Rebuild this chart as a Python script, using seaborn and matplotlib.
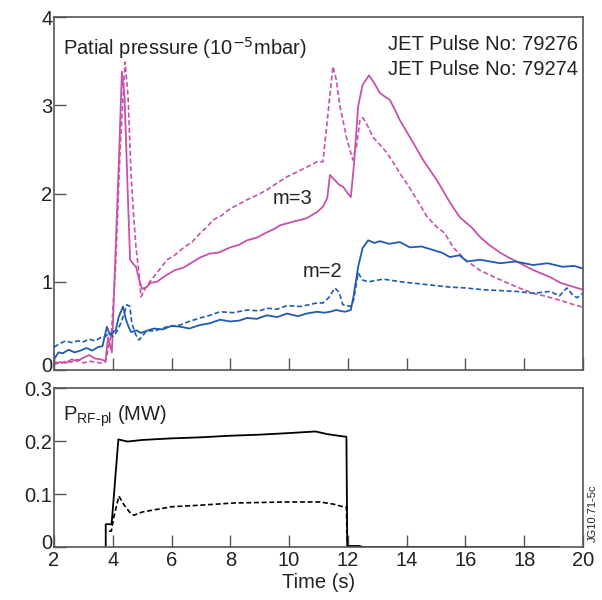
import matplotlib.pyplot as plt
import numpy as np
import pandas as pd
import seaborn as sns
from matplotlib.transforms import ScaledTranslation

# partial pressure, m=3 (magenta) and m=2 (blue); solid = 79276, dashed = 79274
t_m3_276 = [2.0, 2.2, 2.4, 2.6, 2.8, 3.0, 3.2, 3.4, 3.6, 3.75, 3.84, 3.97, 4.1, 4.2, 4.31, 4.4, 4.5,
            4.59, 4.7, 4.79, 4.9, 5.0, 5.15, 5.3, 5.5, 5.8, 6.1, 6.4, 6.7, 7.0, 7.3, 7.6, 8.0, 8.3,
            8.57, 8.9, 9.24, 9.5, 9.69, 10.13, 10.6, 10.95, 11.15, 11.3, 11.39, 11.56, 11.7, 11.83,
            12.0, 12.1, 12.2, 12.35, 12.5, 12.72, 12.9, 13.09, 13.25, 13.43, 13.6, 13.77, 14.11,
            14.56, 15.03, 15.47, 15.81, 16.2, 16.49, 16.8, 17.18, 17.5, 17.86, 18.2, 18.54, 18.9,
            19.22, 19.6, 20.0]
p_m3_276 = [0.06, 0.09, 0.08, 0.12, 0.10, 0.14, 0.17, 0.13, 0.12, 0.10, 0.37, 0.20, 1.4, 2.3, 3.38,
            3.1, 2.1, 1.25, 1.20, 1.17, 1.02, 0.92, 0.94, 0.99, 1.00, 1.07, 1.13, 1.16, 1.22, 1.28,
            1.32, 1.33, 1.39, 1.42, 1.47, 1.50, 1.56, 1.60, 1.64, 1.68, 1.72, 1.79, 1.85, 1.95, 2.21,
            2.15, 2.10, 2.08, 2.00, 1.96, 2.30, 2.99, 3.23, 3.34, 3.25, 3.14, 3.10, 3.06, 2.95, 2.83,
            2.64, 2.38, 2.15, 1.90, 1.73, 1.62, 1.51, 1.42, 1.33, 1.27, 1.21, 1.15, 1.10, 1.05, 0.99,
            0.95, 0.91]

t_m3_274 = [2.0, 2.2, 2.4, 2.6, 2.8, 3.0, 3.2, 3.4, 3.6, 3.75, 3.85, 3.95, 4.1, 4.25, 4.42, 4.52,
            4.62, 4.72, 4.79, 4.89, 4.96, 5.1, 5.3, 5.5, 5.85, 6.1, 6.42, 6.7, 6.97, 7.2, 7.41, 7.7,
            8.0, 8.3, 8.57, 8.9, 9.24, 9.6, 9.93, 10.3, 10.6, 10.95, 11.15, 11.29, 11.49, 11.6,
            11.73, 11.97, 12.17, 12.3, 12.41, 12.51, 12.7, 12.85, 13.1, 13.33, 13.55, 13.77, 14.11,
            14.35, 14.69, 15.03, 15.3, 15.58, 16.0, 16.49, 17.0, 17.41, 17.9, 18.3, 18.8, 19.22,
            19.6, 20.0]
p_m3_274 = [0.10, 0.07, 0.10, 0.09, 0.12, 0.08, 0.10, 0.09, 0.08, 0.09, 0.25, 0.40, 1.2, 2.5, 3.49,
            3.1, 2.23, 1.70, 1.39, 1.10, 0.83, 0.92, 1.02, 1.10, 1.25, 1.30, 1.39, 1.45, 1.55, 1.62,
            1.70, 1.75, 1.83, 1.88, 1.93, 1.98, 2.04, 2.12, 2.19, 2.25, 2.30, 2.36, 2.36, 2.80, 3.44,
            3.30, 2.99, 2.61, 2.38, 2.55, 2.83, 2.86, 2.75, 2.64, 2.55, 2.46, 2.35, 2.23, 2.06, 1.93,
            1.74, 1.62, 1.55, 1.39, 1.25, 1.13, 1.05, 0.99, 0.92, 0.87, 0.83, 0.79, 0.75, 0.71]

t_m2_276 = [2.0, 2.15, 2.3, 2.5, 2.7, 2.9, 3.1, 3.3, 3.5, 3.65, 3.8, 3.9, 3.97, 4.1, 4.2, 4.35, 4.45,
            4.55, 4.62, 4.8, 4.96, 5.2, 5.4, 5.7, 6.0, 6.32, 6.6, 6.97, 7.3, 7.65, 8.0, 8.3, 8.57,
            8.9, 9.24, 9.6, 9.93, 10.3, 10.6, 10.95, 11.2, 11.39, 11.6, 11.9, 12.1, 12.2, 12.35,
            12.5, 12.69, 12.9, 13.09, 13.4, 13.77, 14.11, 14.5, 14.9, 15.2, 15.47, 15.8, 16.05,
            16.5, 17.18, 17.7, 18.3, 18.8, 19.3, 19.7, 20.0]
p_m2_276 = [0.12, 0.20, 0.19, 0.23, 0.20, 0.22, 0.25, 0.22, 0.26, 0.27, 0.49, 0.40, 0.42, 0.45, 0.60,
            0.72, 0.57, 0.48, 0.43, 0.45, 0.42, 0.45, 0.47, 0.46, 0.50, 0.49, 0.47, 0.51, 0.53, 0.57,
            0.55, 0.56, 0.59, 0.58, 0.62, 0.60, 0.64, 0.61, 0.64, 0.66, 0.65, 0.66, 0.68, 0.66, 0.68,
            0.85, 1.17, 1.38, 1.47, 1.44, 1.46, 1.43, 1.45, 1.39, 1.40, 1.36, 1.33, 1.28, 1.30, 1.23,
            1.25, 1.21, 1.23, 1.19, 1.21, 1.17, 1.18, 1.15]

t_m2_274 = [2.0, 2.2, 2.4, 2.6, 2.8, 3.0, 3.2, 3.4, 3.6, 3.75, 3.87, 4.0, 4.13, 4.3, 4.48, 4.58, 4.65,
            4.78, 4.89, 5.0, 5.16, 5.4, 5.85, 6.29, 6.6, 6.97, 7.3, 7.65, 8.1, 8.57, 9.0, 9.24, 9.6,
            9.93, 10.4, 10.95, 11.15, 11.35, 11.56, 11.7, 11.83, 12.1, 12.2, 12.35, 12.5, 12.7,
            13.2, 13.8, 14.35, 14.9, 15.47, 16.0, 16.6, 17.2, 17.75, 18.3, 18.88, 19.2, 19.45,
            19.65, 19.8, 20.0]
p_m2_274 = [0.26, 0.30, 0.33, 0.31, 0.33, 0.32, 0.35, 0.33, 0.37, 0.38, 0.42, 0.38, 0.43, 0.55, 0.74,
            0.72, 0.53, 0.40, 0.34, 0.38, 0.45, 0.44, 0.49, 0.51, 0.55, 0.59, 0.62, 0.66, 0.65, 0.68,
            0.67, 0.70, 0.69, 0.73, 0.72, 0.76, 0.76, 0.82, 0.93, 0.88, 0.74, 0.72, 0.80, 1.10, 1.02,
            1.00, 1.03, 1.00, 0.98, 0.96, 0.94, 0.93, 0.91, 0.90, 0.89, 0.87, 0.89, 0.84, 0.93, 0.85,
            0.82, 0.87]

# RF power coupled to plasma
t_rf_276 = [3.76, 3.76, 3.96, 4.19, 4.5, 5.0, 6.0, 7.0, 8.0, 9.0, 10.0, 10.9, 11.3, 11.8, 11.95,
            11.98, 12.4, 12.5, 19.2]
p_rf_276 = [0.0, 0.043, 0.043, 0.203, 0.199, 0.202, 0.205, 0.207, 0.210, 0.212, 0.215, 0.218, 0.213,
            0.209, 0.208, 0.002, 0.002, 0.0, 0.0]
t_rf_274 = [3.87, 3.95, 4.05, 4.21, 4.4, 4.6, 4.72, 5.0, 5.4, 6.0, 7.0, 8.1, 9.0, 9.9, 11.05, 11.5,
            11.84, 11.95, 11.98]
p_rf_274 = [0.030, 0.030, 0.060, 0.096, 0.078, 0.064, 0.060, 0.066, 0.070, 0.076, 0.079, 0.083,
            0.084, 0.085, 0.085, 0.081, 0.076, 0.075, 0.0]

magenta = '#c653a9'
blue = '#1f5bb5'
grey = '#555555'
txt = '#222222'
fs = 14.5

sns.set_style('ticks')
plt.rcParams['font.family'] = ['Liberation Sans', 'DejaVu Sans']

fig = plt.figure(figsize=(6.02, 6.00), dpi=100)
ax1 = fig.add_axes([0.0897, 0.3833, 0.8787, 0.5883])
ax2 = fig.add_axes([0.0897, 0.0883, 0.8787, 0.2650])

def line(ax, t, p, color, dashed):
    df = pd.DataFrame({'t': t, 'p': p})
    sns.lineplot(data=df, x='t', y='p', ax=ax, color=color, sort=False, estimator=None,
                 lw=1.3 if not dashed else 1.2, linestyle=(0, (3, 1.6)) if dashed else '-')

line(ax1, t_m3_274, p_m3_274, magenta, True)
line(ax1, t_m3_276, p_m3_276, magenta, False)
line(ax1, t_m2_274, p_m2_274, blue, True)
line(ax1, t_m2_276, p_m2_276, blue, False)
line(ax2, t_rf_274, p_rf_274, 'black', True)
line(ax2, t_rf_276, p_rf_276, 'black', False)

for ax in (ax1, ax2):
    ax.set_xlim(2, 20)
    ax.set_xticks(np.arange(2, 21, 2))
    for s in ax.spines.values():
        s.set_visible(True)
        s.set_color(grey)
        s.set_linewidth(1.2)
    ax.tick_params(direction='in', length=8.5, width=1.0, color=grey, labelsize=fs,
                   labelcolor=txt, pad=3)
    ax.set_xlabel('')
    ax.set_ylabel('')

ax1.set_ylim(0, 4)
ax1.set_yticks([0, 1, 2, 3, 4])
ax1.tick_params(axis='x', labelbottom=False)
ax1.tick_params(axis='y', pad=1)

ax2.set_ylim(0, 0.3)
ax2.set_yticks([0, 0.1, 0.2, 0.3])
ax2.set_yticklabels(['0', '0.1', '0.2', '0.3'])
ax2.tick_params(axis='y', pad=1)
ax2.set_xlabel('Time (s)', fontsize=fs, color=txt, labelpad=2)

# the zero labels sit a little above their ticks
for ax in (ax1, ax2):
    lab = ax.get_yticklabels()[0]
    lab.set_transform(lab.get_transform() + ScaledTranslation(0, 0.055, fig.dpi_scale_trans))

ax1.text(0.017, 0.95, 'Patial pressure (10$^{-5}$mbar)', transform=ax1.transAxes,
         fontsize=fs, color=txt, va='top', ha='left')
ax1.text(0.99, 0.95, 'JET Pulse No: 79276', transform=ax1.transAxes,
         fontsize=fs, color=txt, va='top', ha='right')
ax1.text(0.99, 0.877, 'JET Pulse No: 79274', transform=ax1.transAxes,
         fontsize=fs, color=txt, va='top', ha='right')
ax1.text(9.45, 1.94, 'm=3', fontsize=fs, color=txt, va='center', ha='left')
ax1.text(10.45, 1.12, 'm=2', fontsize=fs, color=txt, va='center', ha='left')
ax2.text(0.017, 0.9, 'P$_{\\mathregular{RF\u2011pl}}$ (MW)', transform=ax2.transAxes,
         fontsize=fs, color=txt, va='top', ha='left')
fig.text(0.985, 0.145, 'JG10.71-5c', rotation=90, fontsize=8, color=txt, ha='center', va='center')

fig.savefig('out.png', dpi=100)
